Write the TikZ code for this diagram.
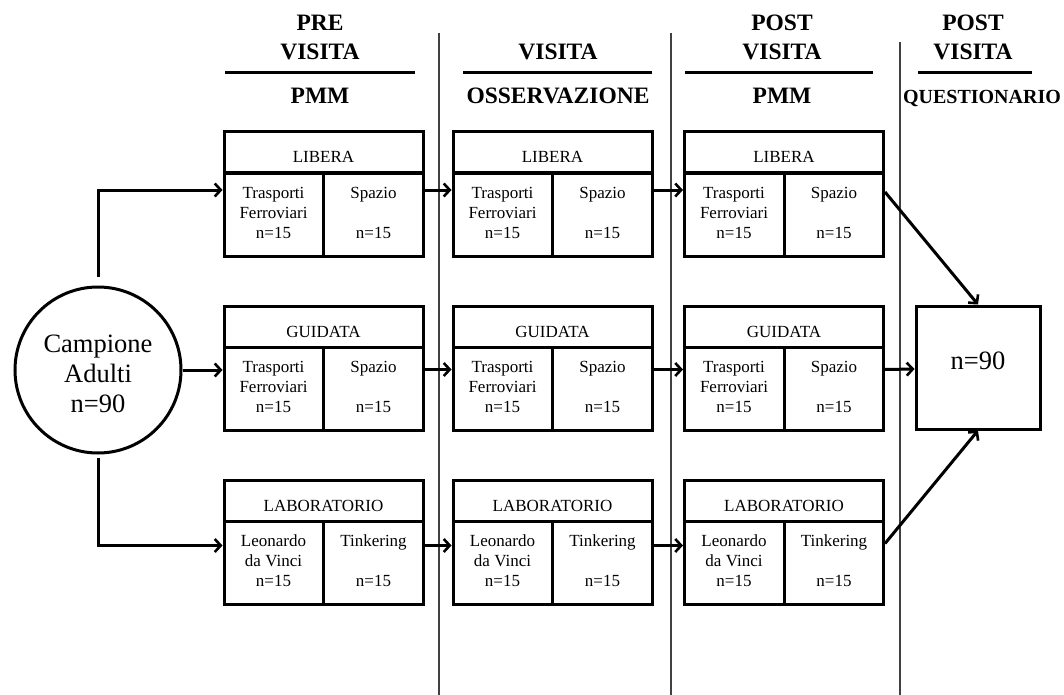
\documentclass[tikz,border=0pt]{standalone}
\usepackage{fontspec}
\setmainfont{Liberation Serif}
\usetikzlibrary{arrows.meta}

% one group block: #1 name, #2 centre x, #3 top y, #4 title,
% #5 #6 left cell lines, #7 right cell word
\newcommand{\grpblock}[7]{%
  \node[blockbox] (#1) at (#2,#3+62) {};
  \draw[boxline] (#2-99.5,#3+41) -- (#2+99.5,#3+41);
  \draw[boxline] (#2,#3+41) -- (#2,#3+124);
  \node[celltxt] (#1h) at (#2,#3+31) {#4};
  \node[celltxt] (#1a) at (#2-50,#3+66) {#5};
  \node[celltxt] (#1b) at (#2-50,#3+86) {#6};
  \node[celltxt] (#1c) at (#2-50,#3+106) {n=15};
  \node[celltxt] (#1d) at (#2+50,#3+66) {#7};
  \node[celltxt] (#1e) at (#2+50,#3+106) {n=15};
}

\begin{document}
\begin{tikzpicture}[x=1pt,y=-1pt,
  boxline/.style={line width=3pt},
  blockbox/.style={draw,line width=3pt,minimum width=199pt,minimum height=124pt,inner sep=0pt},
  celltxt/.style={anchor=base,inner sep=0pt,font=\fontsize{17}{20}\selectfont},
  headtxt/.style={anchor=base,inner sep=0pt,font=\fontsize{23.5}{28}\selectfont\bfseries},
  bigtxt/.style={anchor=base,inner sep=0pt,font=\fontsize{26.5}{30}\selectfont},
  arr/.style={line width=3pt,-{Straight Barb[length=6pt,width=13pt,line width=2.6pt]}},
  sep/.style={line width=1.4pt,black!75},
  rulebar/.style={line width=3pt}]

\path[use as bounding box] (0,0) rectangle (1064,695);

% phase separators
\draw[sep] (439,33) -- (439,695);
\draw[sep] (671,33) -- (671,695);
\draw[sep] (900,42) -- (900,695);

% column headings
\node[headtxt] (h1a) at (320,31) {PRE};
\node[headtxt] (h1b) at (320,60) {VISITA};
\draw[rulebar] (225,73) -- (415,73);
\node[headtxt] (h1c) at (320,104) {PMM};

\node[headtxt] (h2b) at (558,60) {VISITA};
\draw[rulebar] (463,73) -- (652,73);
\node[headtxt] (h2c) at (558,104) {OSSERVAZIONE};

\node[headtxt] (h3a) at (782,31) {POST};
\node[headtxt] (h3b) at (782,60) {VISITA};
\draw[rulebar] (685,73) -- (873,73);
\node[headtxt] (h3c) at (782,104) {PMM};

\node[headtxt] (h4a) at (973,31) {POST};
\node[headtxt] (h4b) at (973,60) {VISITA};
\draw[rulebar] (918,73) -- (1032,73);
\node[headtxt,font=\fontsize{20}{24}\selectfont\bfseries] (h4c) at (982,104) {QUESTIONARIO};

% sample
\node[draw,circle,line width=3pt,minimum size=166pt,inner sep=0pt] (camp) at (98,370) {};
\node[bigtxt] (campa) at (98,352) {Campione};
\node[bigtxt] (campb) at (98,382) {Adulti};
\node[bigtxt] (campc) at (98,412) {n=90};

% groups
\grpblock{pa}{323.5}{132}{LIBERA}{Trasporti}{Ferroviari}{Spazio}
\grpblock{pb}{323.5}{306}{GUIDATA}{Trasporti}{Ferroviari}{Spazio}
\grpblock{pc}{323.5}{480}{LABORATORIO}{Leonardo}{da Vinci}{Tinkering}

\grpblock{va}{552.5}{132}{LIBERA}{Trasporti}{Ferroviari}{Spazio}
\grpblock{vb}{552.5}{306}{GUIDATA}{Trasporti}{Ferroviari}{Spazio}
\grpblock{vc}{552.5}{480}{LABORATORIO}{Leonardo}{da Vinci}{Tinkering}

\grpblock{qa}{784}{132}{LIBERA}{Trasporti}{Ferroviari}{Spazio}
\grpblock{qb}{784}{306}{GUIDATA}{Trasporti}{Ferroviari}{Spazio}
\grpblock{qc}{784}{480}{LABORATORIO}{Leonardo}{da Vinci}{Tinkering}

% questionnaire
\node[draw,line width=3pt,minimum width=124pt,minimum height=123pt,inner sep=0pt] (fin) at (978,367.5) {};
\node[bigtxt] (fint) at (978,369) {n=90};

% connectors
\draw[arr] ([yshift=9pt]camp.north) |- ([yshift=4pt]pa.west);
\draw[arr] (camp.east) -- (camp.east -| pb.west);
\draw[arr] ([yshift=-3pt]camp.south) |- ([yshift=-3.5pt]pc.west);

\draw[arr] ([yshift=4pt]pa.east) -- ([yshift=4pt]va.west);
\draw[arr] ([yshift=-1.5pt]pb.east) -- ([yshift=-1.5pt]vb.west);
\draw[arr] ([yshift=-3.5pt]pc.east) -- ([yshift=-3.5pt]vc.west);

\draw[arr] ([yshift=4pt]va.east) -- ([yshift=4pt]qa.west);
\draw[arr] ([yshift=-1.5pt]vb.east) -- ([yshift=-1.5pt]qb.west);
\draw[arr] ([yshift=-3.5pt]vc.east) -- ([yshift=-3.5pt]qc.west);

\draw[arr] ([yshift=2pt]qa.east) -- (fin.north);
\draw[arr] ([yshift=-1.5pt]qb.east) -- ([yshift=-1.5pt]fin.west);
\draw[arr] ([yshift=-1.5pt]qc.east) -- (fin.south);
\end{tikzpicture}
\end{document}
